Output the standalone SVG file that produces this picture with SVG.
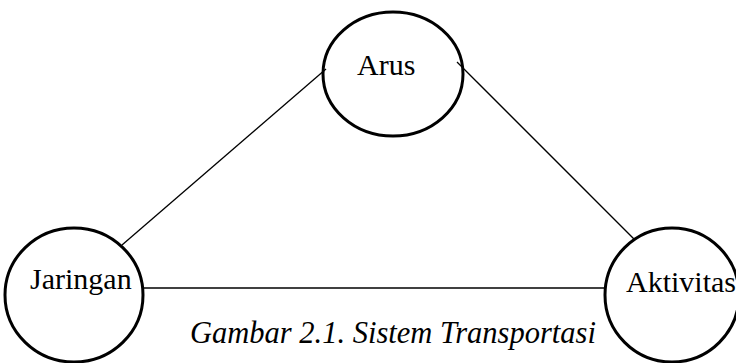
<svg xmlns="http://www.w3.org/2000/svg" width="736" height="363" viewBox="0 0 736 363">
<style>
.node{fill:none;stroke:#000;stroke-width:3}
.lbl{font-family:"Liberation Serif","Times New Roman",serif;font-size:30px;fill:#000}
.cap{font-family:"Liberation Serif","Times New Roman",serif;font-size:30.5px;font-style:italic;fill:#000}
.edge{stroke:#000;stroke-width:1.3;fill:none}
</style>
<rect width="736" height="363" fill="#fff"/>
<g id="connectors">
<line class="edge" x1="122" y1="245" x2="326" y2="69"/>
<line class="edge" x1="457" y1="62" x2="635" y2="240"/>
<line class="edge" x1="143" y1="288" x2="605" y2="288"/>
</g>
<g id="arus">
<ellipse class="node" cx="393" cy="74" rx="70" ry="62"/>
<text class="lbl" x="357" y="75">Arus</text>
</g>
<g id="jaringan">
<ellipse class="node" cx="74" cy="295" rx="69" ry="67"/>
<text class="lbl" x="30" y="289">Jaringan</text>
</g>
<g id="aktivitas">
<ellipse class="node" cx="672" cy="295" rx="67" ry="67"/>
<text class="lbl" x="626" y="292">Aktivitas</text>
</g>
<text class="cap" x="190" y="343">Gambar 2.1. Sistem Transportasi</text>
</svg>
